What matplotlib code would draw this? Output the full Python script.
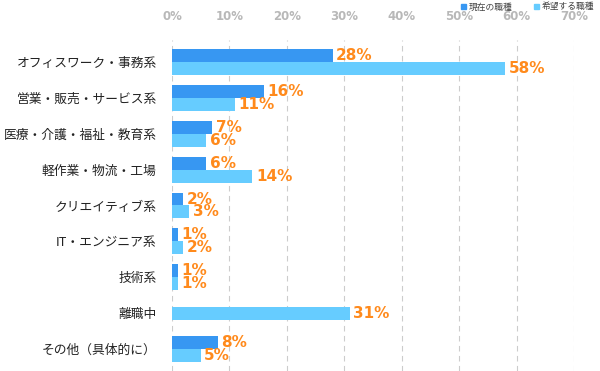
import matplotlib
matplotlib.use("Agg")
import matplotlib.pyplot as plt
from matplotlib.patches import Patch
import numpy as np

plt.rcParams['font.family'] = ['Noto Sans CJK JP', 'DejaVu Sans']

categories = ["オフィスワーク・事務系", "営業・販売・サービス系", "医療・介護・福祉・教育系",
              "軽作業・物流・工場", "クリエイティブ系", "IT・エンジニア系", "技術系",
              "離職中", "その他（具体的に）"]
current = [28, 16, 7, 6, 2, 1, 1, None, 8]
desired = [58, 11, 6, 14, 3, 2, 1, 31, 5]
series_names = ["現在の職種", "希望する職種"]
xticks = [0, 10, 20, 30, 40, 50, 60, 70]

c_cur = "#3797F2"
c_des = "#66CCFF"
c_lab = "#FF8A1C"

fig = plt.figure(figsize=(6, 3.71), dpi=100)
ax = fig.add_axes([172/600, 0.0, (574-172)/600, 1 - 40/371])

h = 0.36
y = np.arange(len(categories))
lab_kw = dict(va="center", ha="left", color=c_lab, fontsize=11,
              fontweight="bold", family="DejaVu Sans", zorder=4)
for i, (c, d) in enumerate(zip(current, desired)):
    if c is None:
        ax.barh(i, d, height=h, color=c_des, zorder=3)
        ax.text(d + 0.6, i, f"{d}%", **lab_kw)
    else:
        ax.barh(i - h/2, c, height=h, color=c_cur, zorder=3)
        ax.barh(i + h/2, d, height=h, color=c_des, zorder=3)
        ax.text(c + 0.6, i - h/2, f"{c}%", **lab_kw)
        ax.text(d + 0.6, i + h/2, f"{d}%", **lab_kw)

ax.set_xlim(0, 70)
ax.set_ylim(8.61, -0.61)
ax.set_xticks(xticks)
ax.set_xticklabels([f"{t}%" for t in xticks], color="#B8B8B8", fontsize=8.5,
                   family="DejaVu Sans", fontweight="bold")
ax.xaxis.tick_top()
ax.tick_params(axis="x", length=0, pad=12)
ax.set_yticks(y)
ax.set_yticklabels(categories, fontsize=9.2, color="#222222")
ax.tick_params(axis="y", length=0, pad=11)
for s in ax.spines.values():
    s.set_visible(False)
ax.grid(axis="x", color="#CCCCCC", linestyle=(0, (5, 4)), linewidth=0.8, zorder=0)

handles = [Patch(color=c_cur), Patch(color=c_des)]
fig.legend(handles, series_names, loc="center right", bbox_to_anchor=(0.99, 1 - 7/371),
           ncol=2, frameon=False, fontsize=6.3, handlelength=0.6, handleheight=0.6,
           handletextpad=0.3, columnspacing=2.4, labelcolor="#444444",
           borderpad=0.0, borderaxespad=0.0)

fig.savefig("out.png", dpi=100)
